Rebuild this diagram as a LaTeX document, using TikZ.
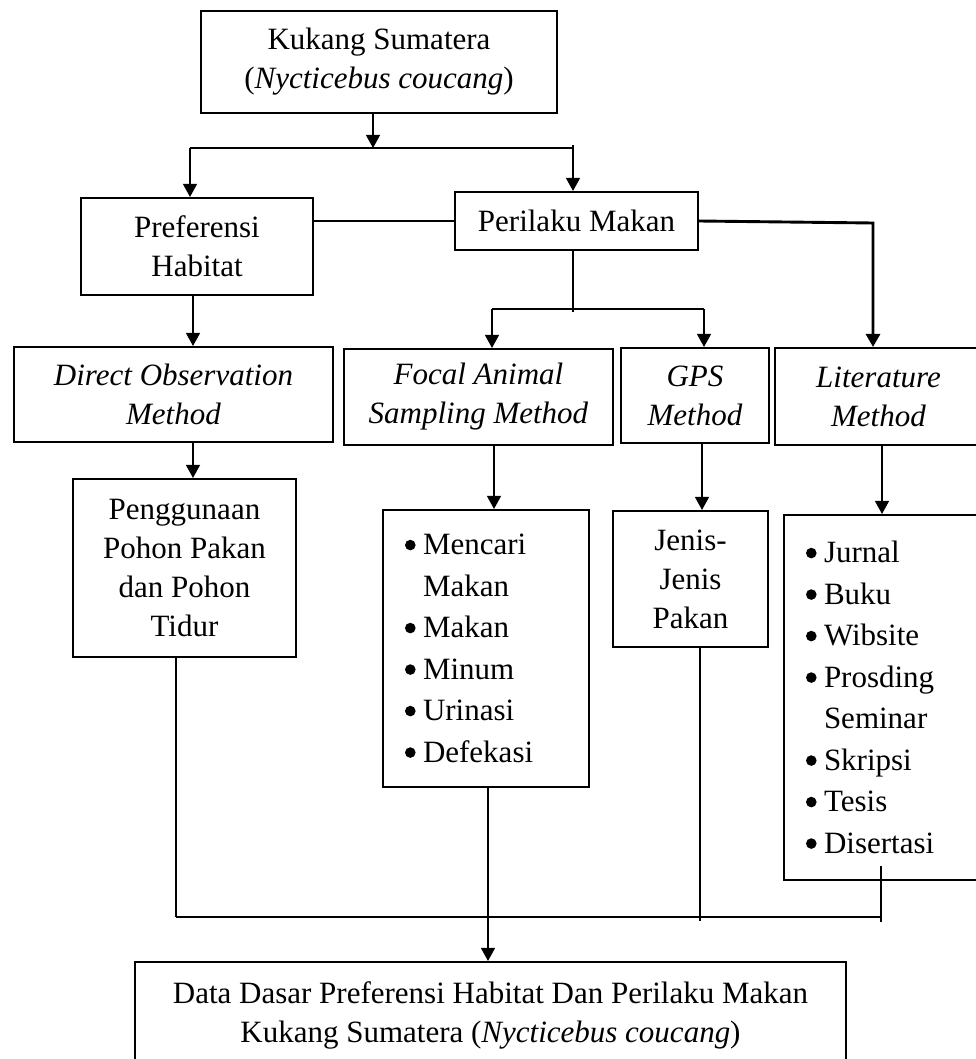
\documentclass[tikz,border=0pt]{standalone}
\usepackage{fontspec}
\setmainfont{Liberation Serif}
\usetikzlibrary{arrows.meta,calc}
\newcommand{\bul}{\makebox[18pt][l]{\raisebox{4.5pt}{\tikz\fill (0,0) circle (5.3pt);}}}
\newcommand{\hang}{\hspace*{18pt}}
\begin{document}
\begin{tikzpicture}[x=1pt,y=-1pt,
  box/.style={draw, line width=2.1pt, rectangle, inner sep=0pt, align=center,
    font=\fontsize{31}{39}\selectfont},
  listbox/.style={box, align=left, inner xsep=22pt, font=\fontsize{31}{41.5}\selectfont},
  thinline/.style={line width=1.3pt},
  thickline/.style={line width=2.9pt},
  arr/.style={-{Triangle[width=14pt,length=13pt]}},
]
\useasboundingbox (0,0) rectangle (976,1059);
\clip (0,0) rectangle (976,1059);

% boxes
\node[box, minimum width=356pt, minimum height=102pt] (top) at (379,62)
  {Kukang Sumatera\\(\textit{Nycticebus coucang})};
\node[box, minimum width=232pt, minimum height=97pt] (pref) at (197,246.5)
  {Preferensi\\Habitat};
\node[box, minimum width=243pt, minimum height=58pt] (peri) at (576.5,221)
  {Perilaku Makan};
\node[box, minimum width=319pt, minimum height=95pt] (do) at (173.5,394.5)
  {\textit{Direct Observation}\\\textit{Method}};
\node[box, minimum width=269pt, minimum height=96pt] (focal) at (478.5,397)
  {\textit{Focal Animal}\\\textit{Sampling Method}};
\node[box, minimum width=148pt, minimum height=95pt] (gps) at (695,395.5)
  {\textit{GPS}\\\textit{Method}};
\node[box, minimum width=207pt, minimum height=97pt] (lit) at (878.5,396.5)
  {\textit{Literature}\\\textit{Method}};
\node[box, minimum width=223pt, minimum height=178pt] (pengg) at (184.5,568)
  {Penggunaan\\Pohon Pakan\\dan Pohon\\Tidur};
\node[listbox, text width=162pt, minimum width=206pt, minimum height=277pt] (mencari) at (486,648.5)
  {\bul Mencari\\\hang Makan\\\bul Makan\\\bul Minum\\\bul Urinasi\\\bul Defekasi};
\node[box, minimum width=155pt, minimum height=136pt] (jenis) at (690.5,579)
  {Jenis-\\Jenis\\Pakan};
\node[listbox, text width=162pt, minimum width=206pt, minimum height=365pt] (list) at (887,697.5)
  {\bul Jurnal\\\bul Buku\\\bul Wibsite\\\bul Prosding\\\hang Seminar\\\bul Skripsi\\\bul Tesis\\\bul Disertasi};
\node[box, minimum width=711pt, minimum height=106pt] (final) at (490.5,1015)
  {Data Dasar Preferensi Habitat Dan Perilaku Makan\\Kukang Sumatera (\textit{Nycticebus coucang})};

% junction coordinates
\coordinate (ja) at (373,148);
\coordinate (jl) at (190,148);
\coordinate (jr) at (573,148);
\coordinate (lr) at (873,223);
\coordinate (jm) at (573,309);
\coordinate (jf) at (492,309);
\coordinate (jg) at (704,309);
\coordinate (xa) at (193,0);
\coordinate (xf) at (494,0);
\coordinate (xg) at (702,0);
\coordinate (xl) at (882,0);
\coordinate (b1) at (176,917);
\coordinate (b2) at (488,917);
\coordinate (b3) at (700,917);
\coordinate (b4) at (881,917);

% top split
\draw[thinline,arr] (top.south -| ja) -- (ja);
\draw[thickline] (jl) -- (jr);
\draw[thinline] ($(jr)+(0,-3)$) -- (jr);
\draw[thinline,arr] (jl) -- (pref.north -| jl);
\draw[thinline,arr] (jr) -- (peri.north -| jr);
\draw[thinline] (pref.east |- peri.west) -- (peri.west);
\draw[thickline,arr] (peri.east) -- (lr) -- (lit.north -| lr);

% perilaku split
\draw[thinline] (peri.south -| jm) -- ($(jm)+(0,3)$);
\draw[thickline] (jf) -- (jg);
\draw[thinline,arr] (jf) -- (focal.north -| jf);
\draw[thinline,arr] (jg) -- (gps.north -| jg);

% second level arrows
\draw[thinline,arr] (pref.south -| xa) -- (do.north -| xa);
\draw[thinline,arr] (do.south -| xa) -- (pengg.north -| xa);
\draw[thinline,arr] (focal.south -| xf) -- (mencari.north -| xf);
\draw[thinline,arr] (gps.south -| xg) -- (jenis.north -| xg);
\draw[thinline,arr] (lit.south -| xl) -- (list.north -| xl);

% bottom merge
\draw[thinline] (pengg.south -| b1) -- (b1);
\draw[thickline] (mencari.south -| b2) -- (b2);
\draw[thickline] (jenis.south -| b3) -- ($(b3)+(0,4)$);
\draw[thickline] ($(list.south -| b4)+(0,-15)$) -- ($(b4)+(0,5)$);
\draw[thickline] (b1) -- (b4);
\draw[thinline,arr] (b2) -- (final.north -| b2);
\end{tikzpicture}
\end{document}
